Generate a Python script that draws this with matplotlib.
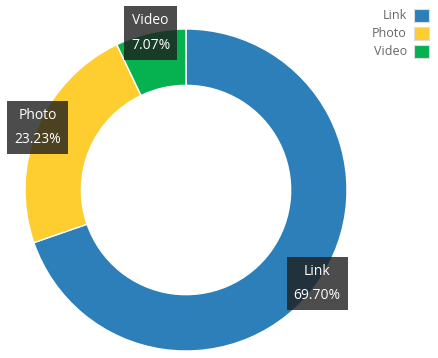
import numpy as np
import matplotlib.pyplot as plt

categories = ["Link", "Photo", "Video"]
shares = [69.70, 23.23, 7.07]
colors = ["#2c7fb8", "#fecd30", "#06b150"]

fig = plt.figure(figsize=(4.38, 3.58), dpi=100)
ax = fig.add_axes([25 / 438, 7 / 358, 322 / 438, 322 / 358])

wedges, _ = ax.pie(
    shares,
    colors=colors,
    startangle=90,
    counterclock=False,
    radius=1.0,
    wedgeprops=dict(width=0.35, edgecolor="white", linewidth=1),
)
ax.set_xlim(-1, 1)
ax.set_ylim(-1, 1)
ax.set_aspect("equal")

# value labels sit on the outer rim at each slice's mid angle
for w, name, val in zip(wedges, categories, shares):
    mid = np.deg2rad((w.theta1 + w.theta2) / 2)
    ax.text(
        np.cos(mid), np.sin(mid),
        f"{name}\n{val:.2f}%",
        ha="center", va="center",
        color="white", fontsize=10, family="Open Sans",
        linespacing=1.85,
        bbox=dict(boxstyle="square,pad=0.5", facecolor="#1f1f1f",
                  alpha=0.8, edgecolor="none"),
        clip_on=False,
    )

leg = fig.legend(
    wedges, categories,
    loc="upper right", bbox_to_anchor=(1.0, 1.0),
    frameon=False, markerfirst=False,
    handlelength=1.2, handleheight=1.2, handletextpad=0.6,
    labelspacing=0.35,
    prop=dict(family="Open Sans", size=9),
    borderaxespad=0.3,
)
for t in leg.get_texts():
    t.set_color("#666666")
for h in leg.legend_handles:
    h.set_edgecolor("#dddddd")
    h.set_linewidth(0.8)

fig.savefig("out.png", dpi=100)
